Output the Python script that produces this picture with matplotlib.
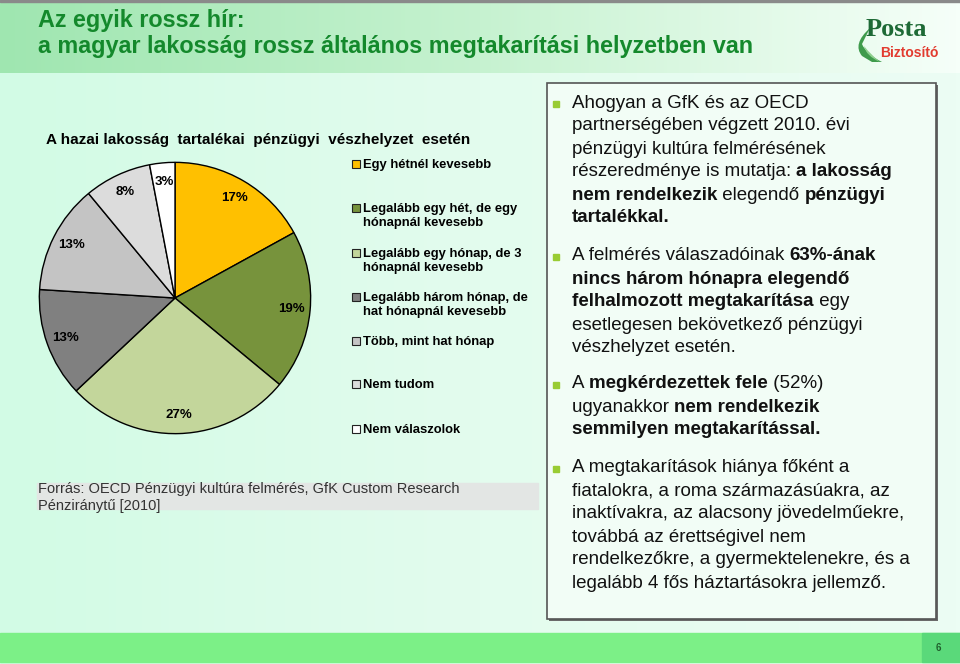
"""
Slide: household financial reserves pie chart with notes.
"""
import numpy as np
import matplotlib
matplotlib.use('Agg')
import matplotlib.pyplot as plt
from matplotlib.patches import Rectangle, PathPatch
from matplotlib.path import Path
from matplotlib.colors import LinearSegmentedColormap

plt.rcParams['font.family'] = ['Liberation Sans', 'DejaVu Sans']

# data
categories = [
    'Egy hétnél kevesebb',
    'Legalább egy hét, de egy\nhónapnál kevesebb',
    'Legalább egy hónap, de 3\nhónapnál kevesebb',
    'Legalább három hónap, de\nhat hónapnál kevesebb',
    'Több, mint hat hónap',
    'Nem tudom',
    'Nem válaszolok',
]
shares = [17, 19, 27, 13, 13, 8, 3]
slice_colors = ['#FFC000', '#77933C', '#C3D69B', '#808080', '#C4C4C4', '#DCDCDC', '#FFFFFF']

title_lines = ['Az egyik rossz hír:',
               'a magyar lakosság rossz általános megtakarítási helyzetben van']
chart_title = 'A hazai lakosság  tartalékai  pénzügyi  vészhelyzet  esetén'
source_lines = ['Forrás: OECD Pénzügyi kultúra felmérés, GfK Custom Research',
                'Pénziránytű [2010]']

# bullet text: each line is a list of (text, bold)
bullets = [
    [[('Ahogyan a GfK és az OECD', False)],
     [('partnerségében végzett 2010. évi', False)],
     [('pénzügyi kultúra felmérésének', False)],
     [('részeredménye is mutatja: ', False), ('a lakosság', True)],
     [('nem rendelkezik', True), (' elegendő ', False), ('pénzügyi', True)],
     [('tartalékkal.', True)]],
    [[('A felmérés válaszadóinak ', False), ('63%-ának', True)],
     [('nincs három hónapra elegendő', True)],
     [('felhalmozott megtakarítása', True), (' egy', False)],
     [('esetlegesen bekövetkező pénzügyi', False)],
     [('vészhelyzet esetén.', False)]],
    [[('A ', False), ('megkérdezettek fele', True), (' (52%)', False)],
     [('ugyanakkor ', False), ('nem rendelkezik', True)],
     [('semmilyen megtakarítással.', True)]],
    [[('A megtakarítások hiánya főként a', False)],
     [('fiatalokra, a roma származásúakra, az', False)],
     [('inaktívakra, az alacsony jövedelműekre,', False)],
     [('továbbá az érettségivel nem', False)],
     [('rendelkezőkre, a gyermektelenekre, és a', False)],
     [('legalább 4 fős háztartásokra jellemző.', False)]],
]
bullet_tops = [103, 256, 384, 468]
page_number = '6'

W, H = 960, 664
fig = plt.figure(figsize=(W / 100, H / 100), dpi=100)

# full-figure axes in pixel coordinates
bg = fig.add_axes([0, 0, 1, 1])
bg.set_xlim(0, W)
bg.set_ylim(H, 0)
bg.axis('off')

# background gradients
body = LinearSegmentedColormap.from_list('body', ['#d2fbe5', '#e3fcee', '#ecfdf4'])
bg.imshow(np.linspace(0, 1, 256)[None, :], cmap=body, extent=[0, W, H, 0],
          aspect='auto', zorder=0)
head = LinearSegmentedColormap.from_list('head', ['#9fe6b0', '#c6f2d0', '#f6fff9'])
bg.imshow(np.linspace(0, 1, 256)[None, :], cmap=head, extent=[0, W, 73, 0],
          aspect='auto', zorder=1)
bg.add_patch(Rectangle((0, 0), W, 2, color='#8a8a8a', zorder=2))

# footer
bg.add_patch(Rectangle((0, 633), W, 29, color='#7cf087', zorder=2))
bg.add_patch(Rectangle((922, 633), 38, 29, color='#5ad97a', zorder=3))
bg.text(938, 648, page_number, fontsize=7, fontweight='bold', color='#1f5e2c',
        ha='center', va='center', zorder=4)

# title
for i, line in enumerate(title_lines):
    bg.text(38, 20 + 26 * i, line, fontsize=16.8, fontweight='bold',
            color='#14892c', ha='left', va='center', zorder=4)

# logo
leaf1 = Path([(870, 28), (852, 44), (862, 56), (872, 62), (882, 62),
              (866, 54), (862, 44), (866, 36), (870, 28)],
             [Path.MOVETO, Path.CURVE3, Path.CURVE3, Path.LINETO, Path.LINETO,
              Path.CURVE3, Path.CURVE3, Path.CURVE3, Path.CURVE3])
bg.add_patch(PathPatch(leaf1, facecolor='#3f9b4c', edgecolor='none', zorder=4))
leaf2 = Path([(864, 46), (866, 56), (880, 62), (872, 56), (864, 46)],
             [Path.MOVETO, Path.CURVE3, Path.CURVE3, Path.CURVE3, Path.CURVE3])
bg.add_patch(PathPatch(leaf2, facecolor='#8fd08f', edgecolor='none', zorder=5))
bg.text(866, 30, 'Posta', fontsize=19, fontweight='bold', color='#1e6a36',
        family='Liberation Serif', ha='left', va='center', zorder=5)
bg.text(880, 53, 'Biztosító', fontsize=10, fontweight='bold', color='#e23b2f',
        ha='left', va='center', zorder=5)

# chart title
bg.text(46, 140, chart_title, fontsize=11, fontweight='bold', color='black',
        ha='left', va='center', zorder=4)

# legend
leg_y = [164, 208, 253, 297, 341, 384, 429]
for label, col, y in zip(categories, slice_colors, leg_y):
    bg.add_patch(Rectangle((352, y - 4.5), 8, 8, facecolor=col, edgecolor='#222222',
                           linewidth=0.8, zorder=4))
    bg.text(363, y - 5, label, fontsize=9.4, fontweight='bold', color='black',
            ha='left', va='top', linespacing=1.2, zorder=4)

# source
bg.add_patch(Rectangle((37, 483), 501, 26, color='#e3e6e4', zorder=3))
for i, line in enumerate(source_lines):
    bg.text(38, 489 + 17 * i, line, fontsize=10.5, color='#333333',
            ha='left', va='center', zorder=4)

# right text box
bg.add_patch(Rectangle((549, 85), 389, 536, facecolor='#6a6a6a', edgecolor='none', zorder=3))
bg.add_patch(Rectangle((547, 83), 389, 536, facecolor='#f2fdf6', edgecolor='#555555',
                       linewidth=1.2, zorder=3))

renderer = fig.canvas.get_renderer()


def text_width(s, bold, size):
    """Advance width in pixels, including leading/trailing spaces."""
    w = 'bold' if bold else 'normal'
    t1 = bg.text(0, 0, '|' + s + '|', fontsize=size, fontweight=w)
    t2 = bg.text(0, 0, '||', fontsize=size, fontweight=w)
    width = t1.get_window_extent(renderer).width - t2.get_window_extent(renderer).width
    t1.remove()
    t2.remove()
    return width


body_size = 13.5
line_step = 23
for top, lines in zip(bullet_tops, bullets):
    bg.add_patch(Rectangle((553, top - 2), 5.5, 5.5, color='#99cc33', zorder=4))
    for j, segs in enumerate(lines):
        x = 572
        y = top + line_step * j
        for s, b in segs:
            bg.text(x, y, s, fontsize=body_size, fontweight='bold' if b else 'normal',
                    color='#111111', ha='left', va='center', zorder=5)
            x += text_width(s, b, body_size)

# pie
cx, cy, r = 175, 298, 137
pie_ax = fig.add_axes([(cx - r) / W, (H - cy - r) / H, 2 * r / W, 2 * r / H])
wedges, _, autotexts = pie_ax.pie(
    shares, colors=slice_colors, startangle=90, counterclock=False,
    autopct='%d%%', pctdistance=0.86,
    wedgeprops=dict(edgecolor='black', linewidth=1.0),
    textprops=dict(fontsize=9.5, fontweight='bold', color='black'))
pie_ax.set_xlim(-1.01, 1.01)
pie_ax.set_ylim(-1.01, 1.01)
pie_ax.set_aspect('equal')
pie_ax.axis('off')

plt.savefig('out.png', dpi=100)
plt.close()
